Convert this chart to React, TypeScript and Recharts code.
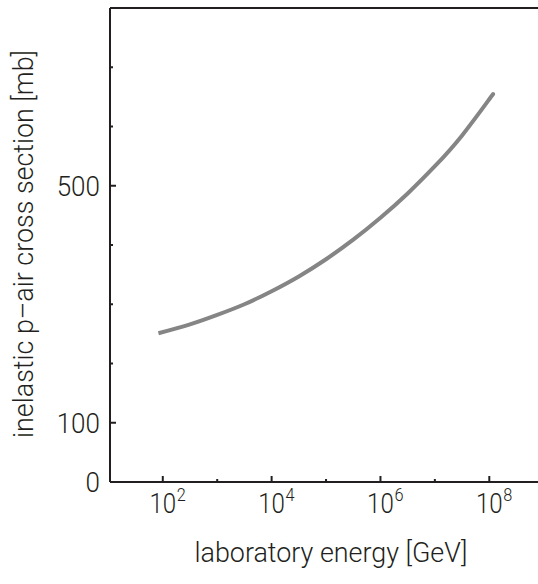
import { LineChart, Line, XAxis, YAxis, ReferenceLine } from 'recharts'

// energy as log10(E / GeV), cross section in mb
const logEnergy = [1.92, 2.5, 3.0, 3.5, 4.0, 4.5, 5.0, 5.5, 6.0, 6.5, 7.0, 7.5, 8.0, 8.05]
const crossSection = [251, 266, 282, 300, 322, 347, 376, 409, 446, 487, 533, 585, 646, 652]

const xTicks = [2, 3, 4, 5, 6, 7, 8]
const xLabelled = [2, 4, 6, 8]
const yTicks = [0, 100, 200, 300, 400, 500, 600, 700]
const yLabelled = [0, 100, 500]

const data = logEnergy.map((e, i) => ({ logE: e, sigma: crossSection[i] }))

const FONT = "Roboto, 'Liberation Sans', sans-serif"
const INK = '#231f20'

// narrow text: the original uses a condensed light face
function NarrowText({ x, y, size, anchor, squeeze = 0.86, children }: any) {
  return (
    <text
      transform={`translate(${x} ${y}) scale(${squeeze} 1)`}
      textAnchor={anchor}
      fontSize={size}
      fontWeight={300}
      fill={INK}
      fontFamily={FONT}
    >
      {children}
    </text>
  )
}

function XTick({ x, y, payload }: any) {
  const v = payload.value
  const major = xLabelled.includes(v)
  return (
    <g>
      <line x1={x} x2={x} y1={y} y2={y - (major ? 6 : 3)} stroke={INK} strokeWidth={2} />
      {major && (
        <>
          <NarrowText x={x} y={y + 31} size={28} anchor="middle">
            10
          </NarrowText>
          <NarrowText x={x + 14} y={y + 19} size={19} anchor="start">
            {v}
          </NarrowText>
        </>
      )}
    </g>
  )
}

function YTick({ x, y, payload }: any) {
  const v = payload.value
  const labelled = yLabelled.includes(v)
  return (
    <g>
      {v !== 0 && (
        <line x1={x} x2={x + (labelled ? 6 : 3)} y1={y} y2={y} stroke={INK} strokeWidth={2} />
      )}
      {labelled && (
        <NarrowText x={x - 10} y={y + 10} size={28} anchor="end" squeeze={0.93}>
          {v}
        </NarrowText>
      )}
    </g>
  )
}

export default function App() {
  return (
    <div style={{ width: 538, height: 584, background: '#fff' }}>
      <style>{'body{margin:0}'}</style>
      <LineChart width={538} height={584} data={data} margin={{ top: 8, right: 0, bottom: 1, left: 0 }}>
        <XAxis
          type="number"
          dataKey="logE"
          domain={[1.03, 8.895]}
          ticks={xTicks}
          interval={0}
          allowDataOverflow
          height={101}
          tickSize={0}
          tickMargin={0}
          tickLine={false}
          tick={XTick}
          axisLine={{ stroke: INK, strokeWidth: 2 }}
          label={{
            content: () => (
              <text
                x={331}
                y={562}
                textAnchor="middle"
                fontSize={28}
                fontWeight={300}
                fill={INK}
                fontFamily={FONT}
                textLength={273}
                lengthAdjust="spacingAndGlyphs"
              >
                laboratory energy [GeV]
              </text>
            ),
          }}
        />
        <YAxis
          type="number"
          domain={[0, 800]}
          ticks={yTicks}
          interval={0}
          allowDataOverflow
          width={110}
          tickSize={0}
          tickMargin={0}
          tickLine={false}
          tick={YTick}
          axisLine={{ stroke: INK, strokeWidth: 2 }}
          label={{
            content: () => (
              <text
                x={0}
                y={0}
                transform="translate(33 244) rotate(-90)"
                textAnchor="middle"
                fontSize={28}
                fontWeight={300}
                fill={INK}
                fontFamily={FONT}
                textLength={388}
                lengthAdjust="spacingAndGlyphs"
              >
                inelastic p–air cross section [mb]
              </text>
            ),
          }}
        />
        <ReferenceLine y={800} stroke={INK} strokeWidth={2} />
        <Line
          type="natural"
          dataKey="sigma"
          stroke="#858585"
          strokeWidth={4}
          dot={false}
          isAnimationActive={false}
        />
      </LineChart>
    </div>
  )
}
